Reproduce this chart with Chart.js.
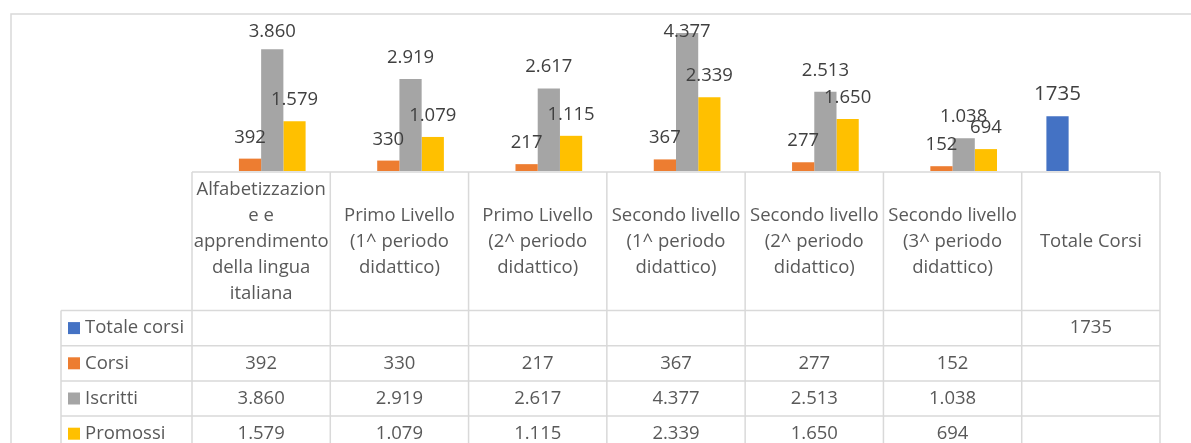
<!DOCTYPE html>
<html lang="it">
<head>
    <meta charset="UTF-8">
    <title>Corsi, iscritti e promossi</title>
    <script src="https://cdn.jsdelivr.net/npm/chart.js"></script>
    <style>
        body { margin: 0; background: #fff; }
        #wrap { position: relative; width: 1191px; height: 443px; }
    </style>
</head>
<body>
    <div id="wrap"><canvas id="chart"></canvas></div>

    <script>
        // Categorie (righe di intestazione della tabella, già spezzate come nell'originale)
        const categories = [
            ['Alfabetizzazion', 'e e', 'apprendimento', 'della lingua', 'italiana'],
            ['Primo Livello', '(1^ periodo', 'didattico)'],
            ['Primo Livello', '(2^ periodo', 'didattico)'],
            ['Secondo livello', '(1^ periodo', 'didattico)'],
            ['Secondo livello', '(2^ periodo', 'didattico)'],
            ['Secondo livello', '(3^ periodo', 'didattico)'],
            ['Totale Corsi']
        ];

        // Serie
        const totaleCorsi = [null, null, null, null, null, null, 1735];
        const corsi       = [392, 330, 217, 367, 277, 152, null];
        const iscritti    = [3860, 2919, 2617, 4377, 2513, 1038, null];
        const promossi    = [1579, 1079, 1115, 2339, 1650, 694, null];

        const FONT = '"Open Sans", "Noto Sans", sans-serif';
        const GRID = '#D9D9D9';

        // separatore delle migliaia all'italiana
        function fmt(v, sep) {
            if (v === null || v === undefined) return '';
            const s = String(v);
            return sep ? s.replace(/\B(?=(\d{3})+(?!\d))/g, '.') : s;
        }

        // bordo esterno del grafico
        const frame = {
            id: 'frame',
            beforeDraw(chart) {
                const c = chart.ctx;
                c.save();
                c.fillStyle = '#fff';
                c.fillRect(0, 0, chart.width, chart.height);
                c.strokeStyle = GRID;
                c.lineWidth = 1.5;
                c.strokeRect(11, 14, chart.width + 20, chart.height + 20);
                c.restore();
            }
        };

        // etichette dei valori sopra le barre
        const valueLabels = {
            id: 'valueLabels',
            afterDatasetsDraw(chart) {
                const c = chart.ctx;
                c.save();
                c.fillStyle = '#404040';
                c.textAlign = 'center';
                c.textBaseline = 'alphabetic';
                chart.data.datasets.forEach((ds, di) => {
                    const meta = chart.getDatasetMeta(di);
                    c.font = ds.labelSize + 'px ' + FONT;
                    meta.data.forEach((bar, i) => {
                        const v = ds.data[i];
                        if (v === null) return;
                        const y = Math.max(bar.y - 16, 37);
                        c.fillText(fmt(v, ds.thousands), bar.x, y);
                    });
                });
                c.restore();
            }
        };

        // tabella dati sotto l'area del grafico
        const dataTable = {
            id: 'dataTable',
            afterDraw(chart) {
                const c = chart.ctx;
                const x = chart.scales.x;
                const area = chart.chartArea;
                const half = (x.getPixelForValue(1) - x.getPixelForValue(0)) / 2;
                const left = x.getPixelForValue(0) - half;
                const right = x.getPixelForValue(categories.length - 1) + half;
                const top = area.bottom + 1;
                const headH = 138.5;
                const rowH = 35.2;
                const tableLeft = 61;
                const rows = chart.data.datasets;
                const bottom = top + headH + rowH * rows.length;

                c.save();
                c.strokeStyle = GRID;
                c.lineWidth = 1.5;
                c.beginPath();
                // linee orizzontali
                c.moveTo(left, top); c.lineTo(right, top);
                for (let r = 0; r <= rows.length; r++) {
                    const y = top + headH + r * rowH;
                    c.moveTo(tableLeft, y); c.lineTo(right, y);
                }
                // linee verticali
                for (let i = 0; i <= categories.length; i++) {
                    const xx = left + i * half * 2;
                    c.moveTo(xx, top); c.lineTo(xx, bottom);
                }
                c.moveTo(tableLeft, top + headH); c.lineTo(tableLeft, bottom);
                c.stroke();

                c.fillStyle = '#595959';
                c.font = '18.5px ' + FONT;
                c.textAlign = 'center';
                c.textBaseline = 'middle';

                // intestazioni di colonna
                const midHead = top + headH / 2;
                categories.forEach((lines, i) => {
                    const cx = x.getPixelForValue(i);
                    lines.forEach((t, k) => {
                        c.fillText(t, cx, midHead + (k - (lines.length - 1) / 2) * 26);
                    });
                });

                // righe: legenda + valori
                rows.forEach((ds, r) => {
                    const cy = top + headH + r * rowH + rowH / 2;
                    c.fillStyle = ds.backgroundColor;
                    c.fillRect(68, cy - 6, 12, 12);
                    c.fillStyle = '#595959';
                    c.textAlign = 'left';
                    c.fillText(ds.label, 85, cy);
                    c.textAlign = 'center';
                    ds.data.forEach((v, i) => {
                        if (v === null) return;
                        c.fillText(fmt(v, ds.thousands), x.getPixelForValue(i), cy);
                    });
                });
                c.restore();
            }
        };

        const ctx = document.getElementById('chart').getContext('2d');
        new Chart(ctx, {
            type: 'bar',
            data: {
                labels: categories,
                datasets: [
                    { label: 'Totale corsi', data: totaleCorsi, backgroundColor: '#4472C4', thousands: false, labelSize: 20.5 },
                    { label: 'Corsi', data: corsi, backgroundColor: '#ED7D31', thousands: true, labelSize: 18.5 },
                    { label: 'Iscritti', data: iscritti, backgroundColor: '#A5A5A5', thousands: true, labelSize: 18.5 },
                    { label: 'Promossi', data: promossi, backgroundColor: '#FFC000', thousands: true, labelSize: 18.5 }
                ]
            },
            options: {
                responsive: true,
                maintainAspectRatio: false,
                animation: false,
                datasets: { bar: { categoryPercentage: 0.643, barPercentage: 1.0 } },
                layout: { padding: { left: 192, right: 31, top: 29, bottom: 272 } },
                scales: {
                    x: { display: false },
                    y: { display: false, min: 0, max: 4500 }
                },
                plugins: {
                    legend: { display: false },
                    tooltip: { enabled: false }
                }
            },
            plugins: [frame, valueLabels, dataTable]
        });
    </script>
</body>
</html>
